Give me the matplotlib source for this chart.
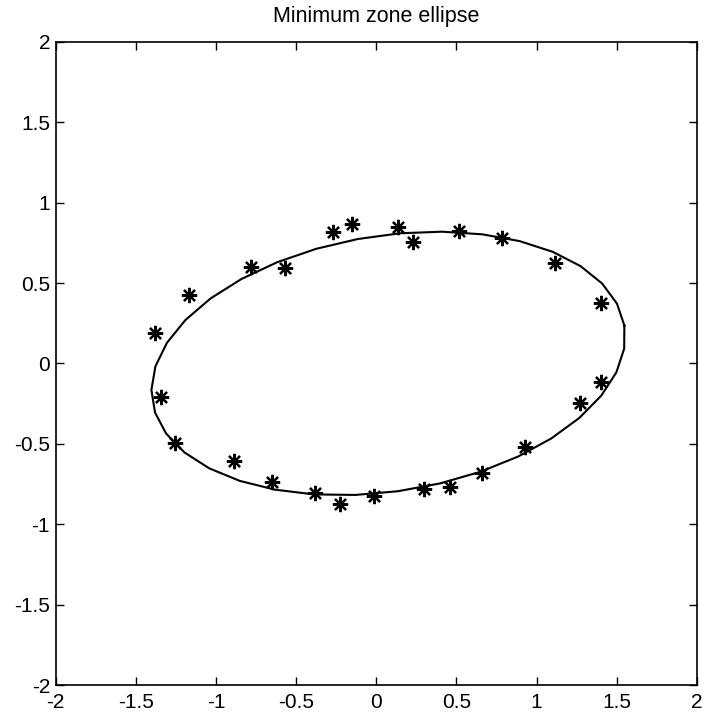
import numpy as np
import matplotlib
matplotlib.use("Agg")
import matplotlib.pyplot as plt

plt.rcParams['font.family'] = ['Liberation Sans', 'DejaVu Sans']

# measured points
pts_x = [-1.379, -1.342, -1.255, -1.168, -0.888, -0.783, -0.571, -0.652,
         -0.273, -0.149, -0.385, -0.224, -0.012, 0.137, 0.230, 0.516,
         0.298, 0.460, 0.783, 0.658, 1.112, 0.930, 1.404, 1.404, 1.273]
pts_y = [0.187, -0.206, -0.492, 0.424, -0.604, 0.598, 0.592, -0.735,
         0.816, 0.866, -0.804, -0.872, -0.822, 0.847, 0.754, 0.822,
         -0.779, -0.766, 0.778, -0.679, 0.623, -0.517, 0.374, -0.118, -0.243]

# fitted ellipse parameters
center = (0.075, 0.0)
semi_a = 1.491
semi_b = 0.795
theta_deg = 9.1
n_vertices = 36

ticks = [-2, -1.5, -1, -0.5, 0, 0.5, 1, 1.5, 2]
tick_labels = ['-2', '-1.5', '-1', '-0.5', '0', '0.5', '1', '1.5', '2']

fig = plt.figure(figsize=(7.04, 7.17), dpi=100)
ax = fig.add_axes([0.079, 0.0446, 0.911, 0.897])

t = np.linspace(0, 2 * np.pi, n_vertices)
th = np.deg2rad(theta_deg)
ex = center[0] + semi_a * np.cos(th) * np.cos(t) - semi_b * np.sin(th) * np.sin(t)
ey = center[1] + semi_a * np.sin(th) * np.cos(t) + semi_b * np.cos(th) * np.sin(t)
ax.plot(ex, ey, color='black', lw=1.5)
ax.plot(pts_x, pts_y, linestyle='none', marker=(8, 2, 0), markersize=11,
        markeredgewidth=1.6, color='black')

ax.set_xlim(-2, 2)
ax.set_ylim(-2, 2)
ax.set_xticks(ticks)
ax.set_xticklabels(tick_labels)
ax.set_yticks(ticks)
ax.set_yticklabels(tick_labels)
ax.tick_params(direction='in', length=6, width=1, top=True, right=True,
               labelsize=15)
ax.tick_params(axis='x', pad=6)
ax.tick_params(axis='y', pad=4)
for s in ax.spines.values():
    s.set_linewidth(1.2)
ax.set_title('Minimum zone ellipse', fontsize=15.5, pad=14)

fig.savefig('out.png', dpi=100)
